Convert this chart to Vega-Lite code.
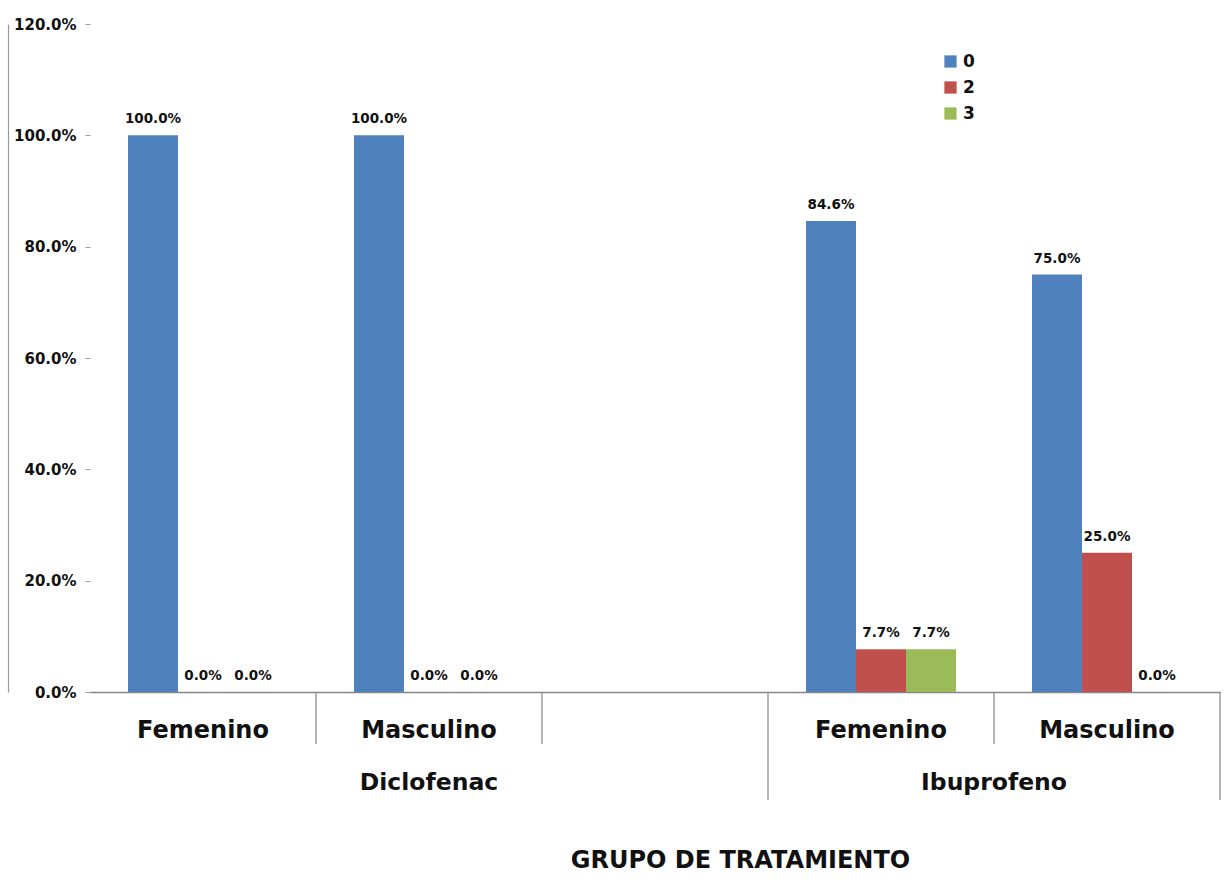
{
  "$schema": "https://vega.github.io/schema/vega-lite/v6.json",
  "width": 1130,
  "height": 668,
  "autosize": {"type": "none"},
  "padding": {"left": 90, "top": 24, "right": 9, "bottom": 200},
  "background": "white",
  "config": {
    "view": {"stroke": null},
    "font": "DejaVu Sans"
  },
  "datasets": {
    "porcentajes": [
      {"clave": "D Femenino", "grupo": "Diclofenac", "sexo": "Femenino", "nivel": "0", "valor": 1.0},
      {"clave": "D Femenino", "grupo": "Diclofenac", "sexo": "Femenino", "nivel": "2", "valor": 0.0},
      {"clave": "D Femenino", "grupo": "Diclofenac", "sexo": "Femenino", "nivel": "3", "valor": 0.0},
      {"clave": "D Masculino", "grupo": "Diclofenac", "sexo": "Masculino", "nivel": "0", "valor": 1.0},
      {"clave": "D Masculino", "grupo": "Diclofenac", "sexo": "Masculino", "nivel": "2", "valor": 0.0},
      {"clave": "D Masculino", "grupo": "Diclofenac", "sexo": "Masculino", "nivel": "3", "valor": 0.0},
      {"clave": "I Femenino", "grupo": "Ibuprofeno", "sexo": "Femenino", "nivel": "0", "valor": 0.846},
      {"clave": "I Femenino", "grupo": "Ibuprofeno", "sexo": "Femenino", "nivel": "2", "valor": 0.077},
      {"clave": "I Femenino", "grupo": "Ibuprofeno", "sexo": "Femenino", "nivel": "3", "valor": 0.077},
      {"clave": "I Masculino", "grupo": "Ibuprofeno", "sexo": "Masculino", "nivel": "0", "valor": 0.75},
      {"clave": "I Masculino", "grupo": "Ibuprofeno", "sexo": "Masculino", "nivel": "2", "valor": 0.25},
      {"clave": "I Masculino", "grupo": "Ibuprofeno", "sexo": "Masculino", "nivel": "3", "valor": 0.0}
    ],
    "separadores": [
      {"clave": "D Femenino", "largo": "corto"},
      {"clave": "D Masculino", "largo": "corto"},
      {"clave": "D", "largo": "largo"},
      {"clave": "I Femenino", "largo": "corto"},
      {"clave": "I Masculino", "largo": "largo"}
    ],
    "grupos": [
      {"grupo": "Diclofenac", "clave": "D Masculino", "posicion": "centro"},
      {"grupo": "Ibuprofeno", "clave": "I Masculino", "posicion": "inicio"}
    ]
  },
  "resolve": {"axis": {"y": "independent"}},
  "layer": [
    {
      "data": {"name": "porcentajes"},
      "mark": {"type": "bar"},
      "encoding": {
        "x": {
          "field": "clave",
          "type": "nominal",
          "sort": null,
          "scale": {
            "type": "band",
            "domain": ["D Femenino", "D Masculino", "D", "I Femenino", "I Masculino"],
            "paddingInner": 0,
            "paddingOuter": 0
          },
          "axis": {
            "title": "GRUPO DE TRATAMIENTO",
            "titleFont": "DejaVu Sans",
            "titleFontSize": 24,
            "titleFontWeight": "bold",
            "titleColor": "#111111",
            "titleX": 650,
            "titleY": 175,
            "titleAlign": "center",
            "titleBaseline": "alphabetic",
            "labelExpr": "length(datum.value) > 1 ? substring(datum.value, 2) : ''",
            "labelFont": "DejaVu Sans",
            "labelFontSize": 24,
            "labelFontWeight": "bold",
            "labelColor": "#111111",
            "labelAngle": 0,
            "labelBaseline": "alphabetic",
            "labelPadding": 45,
            "ticks": false,
            "tickSize": 0,
            "domain": true,
            "domainColor": "#868686",
            "domainWidth": 1.5,
            "grid": false
          }
        },
        "xOffset": {
          "field": "nivel",
          "type": "nominal",
          "scale": {"domain": ["0", "2", "3"], "paddingInner": 0, "paddingOuter": 0.76}
        },
        "y": {
          "field": "valor",
          "type": "quantitative",
          "scale": {"domain": [0, 1.2], "nice": false, "zero": true},
          "axis": {
            "orient": "left",
            "title": null,
            "values": [0, 0.2, 0.4, 0.6, 0.8, 1.0, 1.2],
            "format": ".1%",
            "labelFont": "DejaVu Sans",
            "labelFontSize": 15,
            "labelFontWeight": "bold",
            "labelColor": "#111111",
            "labelPadding": 9,
            "domain": false,
            "grid": false,
            "ticks": true,
            "tickSize": 5,
            "tickColor": "#9a9a9a"
          }
        },
        "color": {
          "field": "nivel",
          "type": "nominal",
          "scale": {"domain": ["0", "2", "3"], "range": ["#4F81BD", "#C0504D", "#9BBB59"]},
          "legend": {
            "title": null,
            "orient": "none",
            "legendX": 852,
            "legendY": 29,
            "symbolType": "square",
            "symbolSize": 150,
            "symbolStrokeWidth": 0,
            "labelFont": "DejaVu Sans",
            "labelFontSize": 17,
            "labelFontWeight": "bold",
            "labelColor": "#111111",
            "labelOffset": 4,
            "rowPadding": 8
          }
        }
      }
    },
    {
      "data": {"name": "porcentajes"},
      "mark": {
        "type": "text",
        "baseline": "bottom",
        "dy": -9,
        "font": "DejaVu Sans",
        "fontSize": 13.5,
        "fontWeight": "bold",
        "color": "#111111"
      },
      "encoding": {
        "x": {"field": "clave", "type": "nominal", "sort": null},
        "xOffset": {"field": "nivel", "type": "nominal"},
        "y": {"field": "valor", "type": "quantitative", "axis": null},
        "text": {"field": "valor", "type": "quantitative", "format": ".1%"}
      }
    },
    {
      "data": {"name": "separadores"},
      "transform": [{"filter": "datum.largo == 'corto'"}],
      "mark": {"type": "rule", "color": "#868686", "strokeWidth": 1.2, "y2Offset": 52},
      "encoding": {
        "x": {"field": "clave", "type": "nominal", "bandPosition": 1},
        "y": {
          "datum": 0,
          "type": "quantitative",
          "axis": {
            "orient": "left",
            "offset": 82,
            "title": null,
            "labels": false,
            "ticks": false,
            "grid": false,
            "domain": true,
            "domainColor": "#9a9a9a",
            "domainWidth": 1.2
          }
        },
        "y2": {"datum": 0}
      }
    },
    {
      "data": {"name": "separadores"},
      "transform": [{"filter": "datum.largo == 'largo'"}],
      "mark": {"type": "rule", "color": "#868686", "strokeWidth": 1.2, "y2Offset": 108},
      "encoding": {
        "x": {"field": "clave", "type": "nominal", "bandPosition": 1},
        "y": {"datum": 0, "type": "quantitative", "axis": null},
        "y2": {"datum": 0}
      }
    },
    {
      "data": {"name": "grupos"},
      "transform": [{"filter": "datum.posicion == 'centro'"}],
      "mark": {
        "type": "text",
        "baseline": "alphabetic",
        "dy": 98,
        "font": "DejaVu Sans",
        "fontSize": 23.5,
        "fontWeight": "bold",
        "color": "#111111"
      },
      "encoding": {
        "x": {"field": "clave", "type": "nominal", "bandPosition": 0.5},
        "y": {"datum": 0, "type": "quantitative", "axis": null},
        "text": {"field": "grupo"}
      }
    },
    {
      "data": {"name": "grupos"},
      "transform": [{"filter": "datum.posicion == 'inicio'"}],
      "mark": {
        "type": "text",
        "baseline": "alphabetic",
        "dy": 98,
        "font": "DejaVu Sans",
        "fontSize": 23.5,
        "fontWeight": "bold",
        "color": "#111111"
      },
      "encoding": {
        "x": {"field": "clave", "type": "nominal", "bandPosition": 0},
        "y": {"datum": 0, "type": "quantitative", "axis": null},
        "text": {"field": "grupo"}
      }
    }
  ]
}
